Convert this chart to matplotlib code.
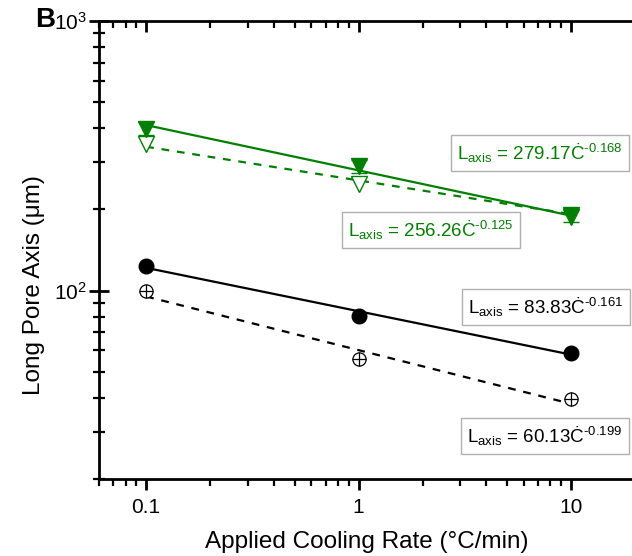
import numpy as np
import matplotlib
matplotlib.use("Agg")
import matplotlib.pyplot as plt
from matplotlib.ticker import LogLocator, NullFormatter

plt.rcParams["font.family"] = ["Liberation Sans", "DejaVu Sans"]
plt.rcParams["mathtext.fontset"] = "custom"
plt.rcParams["mathtext.rm"] = "Liberation Sans"
plt.rcParams["mathtext.it"] = "Liberation Sans:italic"
plt.rcParams["mathtext.default"] = "regular"

# cooling rates (°C/min)
rate = [0.1, 1, 10]

# measured long pore axis (µm)
green_filled = [399, 290, 190]
green_filled_err = [22, 16, 10]
green_open = [351, 249, 188]
black_filled = [123, 80.7, 58.7]
black_open = [100, 55.7, 39.5]

# power-law fits  L = a * C^b
fits = {
    "green_solid": (279.17, -0.168),
    "green_dash": (256.26, -0.125),
    "black_solid": (83.83, -0.161),
    "black_dash": (60.13, -0.199),
}

green = "#008000"

fig = plt.figure(figsize=(6.32, 5.56), dpi=100)
ax = fig.add_axes([99 / 632, 1 - 479 / 556, (635 - 99) / 632, (479 - 21) / 556])
ax.set_xscale("log")
ax.set_yscale("log")
ax.set_xlim(0.06, 20)
ax.set_ylim(20, 1000)

xf = np.logspace(-1, 1, 50)


def fit_line(key, color, dashed):
    a, b = fits[key]
    ln, = ax.plot(xf, a * xf ** b, color=color, lw=1.6, zorder=2)
    if dashed:
        ln.set_dashes((3.5, 3.5))


fit_line("green_solid", green, False)
fit_line("green_dash", green, True)
fit_line("black_solid", "black", False)
fit_line("black_dash", "black", True)

# green series
ax.plot(rate, green_open, "v", ms=11, mfc="white", mec=green, mew=1.0, zorder=3)
ax.errorbar(rate, green_filled, yerr=green_filled_err, fmt="v", ms=12,
            color=green, mec=green, ecolor=green, elinewidth=1.0,
            capsize=6, capthick=1.0, zorder=4)

# black series
ax.plot(rate, black_filled, "o", ms=10.5, color="black", zorder=4)
ax.plot(rate, black_open, "o", ms=9.5, mfc="white", mec="black", mew=0.9, zorder=4)
ax.plot(rate, black_open, "+", ms=9.5, color="black", mew=0.9, zorder=5)

# fit equations
box = dict(boxstyle="square,pad=0.35", fc="white", ec="#b0b0b0", lw=1.0)
labels = [
    (540, 153, fits["green_solid"], green),
    (431, 230, fits["green_dash"], green),
    (546, 307, fits["black_solid"], "black"),
    (545, 436, fits["black_dash"], "black"),
]
for px, py, (a, b), col in labels:
    expo = f"{b:.3f}".replace("-", "\u2010")
    fig.text(px / 632, 1 - py / 556,
             f"L$_{{axis}}$ = {a:.2f}Ċ$^{{{expo}}}$",
             fontsize=13.5, color=col, ha="center", va="center", bbox=box)

# axes styling
for s in ["left", "bottom", "top"]:
    ax.spines[s].set_linewidth(2.0)
ax.spines["right"].set_visible(False)

ax.xaxis.set_minor_locator(LogLocator(base=10, subs=np.arange(2, 10)))
ax.yaxis.set_minor_locator(LogLocator(base=10, subs=np.arange(2, 10)))
ax.xaxis.set_minor_formatter(NullFormatter())
ax.yaxis.set_minor_formatter(NullFormatter())
ax.set_xticks([0.1, 1, 10])
ax.set_xticklabels(["0.1", "1", "10"])

ax.tick_params(axis="x", which="major", direction="out", length=8, width=2,
               labelsize=15, pad=6, top=True)
ax.tick_params(axis="x", which="minor", direction="out", length=5, width=1.6, top=True)
ax.tick_params(axis="y", which="major", direction="inout", length=14, width=2,
               labelsize=15, pad=2)
ax.tick_params(axis="y", which="minor", direction="inout", length=8, width=1.6)

# top ticks point inward
for t in ax.xaxis.get_major_ticks():
    t.tick2line.set_marker(matplotlib.lines.TICKDOWN)
for t in ax.xaxis.get_minor_ticks():
    t.tick2line.set_marker(matplotlib.lines.TICKDOWN)

ax.set_xlabel("Applied Cooling Rate (°C/min)", fontsize=17.5, labelpad=10)
ax.set_ylabel("Long Pore Axis (μm)", fontsize=17.5)
ax.yaxis.set_label_coords(-0.100, 0.424)

fig.text(35 / 632, 1 - 20 / 556, "B", fontsize=20, fontweight="bold",
         ha="left", va="center")

fig.savefig("out.png", dpi=100)
